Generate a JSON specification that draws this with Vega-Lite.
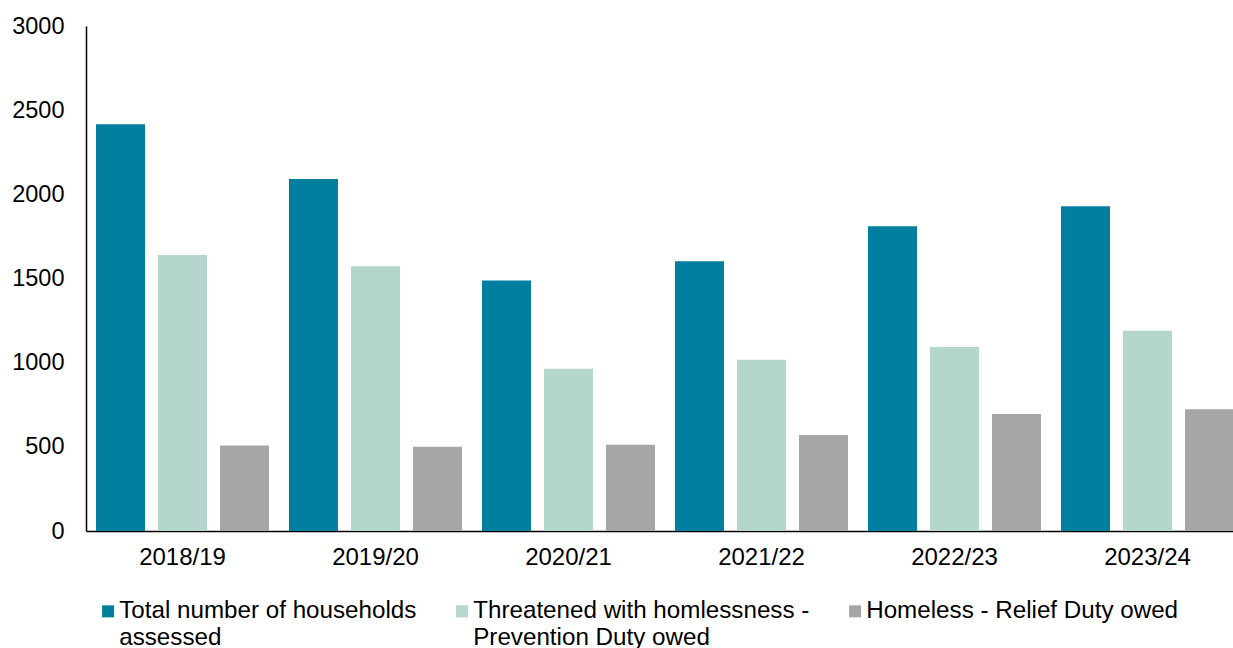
{
  "$schema": "https://vega.github.io/schema/vega-lite/v6.json",
  "autosize": {"type": "none"},
  "padding": {"left": 86, "top": 26, "right": 0, "bottom": 117},
  "width": 1147,
  "height": 505,
  "background": "white",
  "config": {
    "view": {"stroke": null},
    "font": "Liberation Sans",
    "axis": {"labelFont": "Liberation Sans", "labelColor": "#000000", "domainColor": "#000000", "domainWidth": 1.5, "ticks": false, "grid": false, "title": null}
  },
  "data": {
    "values": [
      {"year": "2018/19", "series": "Total number of households assessed", "value": 2417},
      {"year": "2018/19", "series": "Threatened with homlessness - Prevention Duty owed", "value": 1639},
      {"year": "2018/19", "series": "Homeless - Relief Duty owed", "value": 508},
      {"year": "2019/20", "series": "Total number of households assessed", "value": 2091},
      {"year": "2019/20", "series": "Threatened with homlessness - Prevention Duty owed", "value": 1573},
      {"year": "2019/20", "series": "Homeless - Relief Duty owed", "value": 500},
      {"year": "2020/21", "series": "Total number of households assessed", "value": 1488},
      {"year": "2020/21", "series": "Threatened with homlessness - Prevention Duty owed", "value": 964},
      {"year": "2020/21", "series": "Homeless - Relief Duty owed", "value": 512},
      {"year": "2021/22", "series": "Total number of households assessed", "value": 1603},
      {"year": "2021/22", "series": "Threatened with homlessness - Prevention Duty owed", "value": 1018},
      {"year": "2021/22", "series": "Homeless - Relief Duty owed", "value": 570},
      {"year": "2022/23", "series": "Total number of households assessed", "value": 1811},
      {"year": "2022/23", "series": "Threatened with homlessness - Prevention Duty owed", "value": 1093},
      {"year": "2022/23", "series": "Homeless - Relief Duty owed", "value": 695},
      {"year": "2023/24", "series": "Total number of households assessed", "value": 1929},
      {"year": "2023/24", "series": "Threatened with homlessness - Prevention Duty owed", "value": 1190},
      {"year": "2023/24", "series": "Homeless - Relief Duty owed", "value": 724}
    ]
  },
  "mark": {"type": "bar"},
  "encoding": {
    "x": {
      "field": "year", "type": "nominal", "sort": null,
      "scale": {"paddingInner": 0.1036, "paddingOuter": 0.0518, "range": [0, 1158]},
      "axis": {"labelAngle": 0, "labelPadding": 14, "labelFontSize": 24}
    },
    "xOffset": {
      "field": "series", "type": "nominal",
      "sort": ["Total number of households assessed", "Threatened with homlessness - Prevention Duty owed", "Homeless - Relief Duty owed"],
      "scale": {"paddingInner": 0.2097, "paddingOuter": 0}
    },
    "y": {
      "field": "value", "type": "quantitative",
      "scale": {"domain": [0, 3000], "nice": false},
      "axis": {"values": [0, 500, 1000, 1500, 2000, 2500, 3000], "format": "d", "labelPadding": 22, "labelFontSize": 23.5}
    },
    "color": {
      "field": "series", "type": "nominal",
      "sort": ["Total number of households assessed", "Threatened with homlessness - Prevention Duty owed", "Homeless - Relief Duty owed"],
      "scale": {
        "domain": ["Total number of households assessed", "Threatened with homlessness - Prevention Duty owed", "Homeless - Relief Duty owed"],
        "range": ["#007F9E", "#B4D6CD", "#A6A6A6"]
      },
      "legend": {
        "title": null,
        "orient": "none",
        "legendX": 10,
        "legendY": 573,
        "direction": "horizontal",
        "symbolType": "square",
        "symbolSize": 144,
        "symbolStrokeWidth": 0,
        "labelFont": "Liberation Sans",
        "labelFontSize": 24.2,
        "labelColor": "#000000",
        "labelLimit": 0,
        "labelOffset": -1,
        "labelBaseline": "top",
        "labelLineHeight": 27,
        "columnPadding": 33,
        "labelExpr": "datum.label == 'Total number of households assessed' ? ['Total number of households', 'assessed'] : datum.label == 'Threatened with homlessness - Prevention Duty owed' ? ['Threatened with homlessness -', 'Prevention Duty owed'] : [datum.label, '']",
        "encode": {"labels": {"update": {"dy": {"value": -12}}}}
      }
    }
  }
}
